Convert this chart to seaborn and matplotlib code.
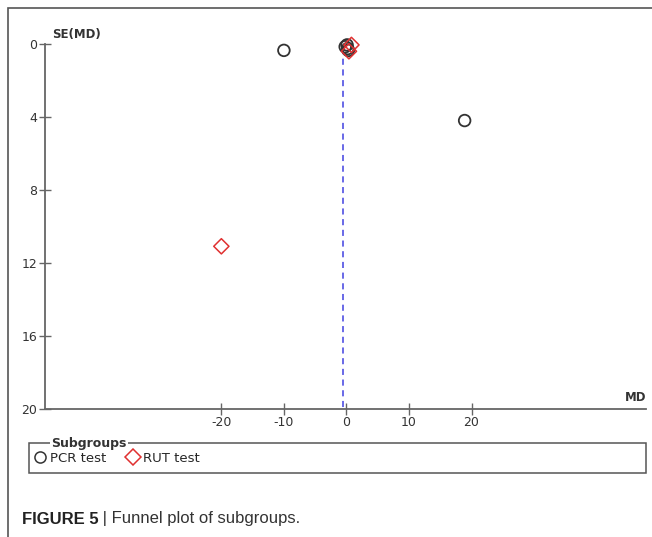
import matplotlib
matplotlib.use("Agg")
import matplotlib.pyplot as plt
import matplotlib.patches as mpatches
from matplotlib.lines import Line2D
import seaborn as sb
import pandas as pd

# funnel plot data
pcr_md = [-10.0, 18.9, -0.2, 0.1, 0.3, 0.2]
pcr_se = [0.35, 4.2, 0.15, 0.05, 0.35, 0.25]
rut_md = [-20.0, 0.8, 0.4]
rut_se = [11.1, 0.05, 0.4]
pooled_md = -0.6
x_ticks = [-20, -10, 0, 10, 20]
y_ticks = [0, 4, 8, 12, 16, 20]

df = pd.DataFrame({
    'MD': pcr_md + rut_md,
    'SE': pcr_se + rut_se,
    'Subgroup': ['PCR test'] * len(pcr_md) + ['RUT test'] * len(rut_md),
})

sb.set_style('white')
plt.rcParams['font.family'] = ['DejaVu Sans']
plt.rcParams['axes.unicode_minus'] = False

W, H = 652, 537
fig = plt.figure(figsize=(W / 100, H / 100), dpi=100)

# outer figure frame (left and top edges visible)
fig.add_artist(mpatches.Rectangle((7.5 / W, -0.05), 1.1, 1 - 7.5 / H + 0.05,
                                  transform=fig.transFigure, fill=False,
                                  edgecolor='#555555', linewidth=1.2))

ax = fig.add_axes([45 / W, (H - 408.5) / H, 601 / W, (408.5 - 44) / H])
sb.scatterplot(data=df, x='MD', y='SE', hue='Subgroup', style='Subgroup',
               markers={'PCR test': 'o', 'RUT test': 'D'},
               palette={'PCR test': 'none', 'RUT test': 'none'},
               legend=False, ax=ax, s=1)
# hollow markers
ax.scatter(pcr_md, pcr_se, s=70, marker='o', facecolors='none',
           edgecolors='#333333', linewidths=1.3, zorder=3, clip_on=False)
ax.scatter(rut_md, rut_se, s=60, marker='D', facecolors='none',
           edgecolors='#e03030', linewidths=1.1, zorder=4, clip_on=False)

ax.plot([pooled_md, pooled_md], [0.2, 20], color='#4040e0',
        linestyle=(0, (4, 3)), linewidth=1.1, zorder=2)

ax.set_xlim(-48.2, 47.9)
ax.set_ylim(20, 0)
ax.set_xticks(x_ticks)
ax.set_yticks(y_ticks)
ax.set_xlabel('')
ax.set_ylabel('')
sb.despine(ax=ax, top=True, right=True)
for s in ['left', 'bottom']:
    ax.spines[s].set_color('#666666')
    ax.spines[s].set_linewidth(1.3)
ax.tick_params(axis='both', which='both', direction='inout', length=9,
               width=1.0, color='#666666', labelsize=9, labelcolor='#333333',
               bottom=True, left=True, pad=1)
ax.text(7 / 601, 1.008, 'SE(MD)', transform=ax.transAxes, fontsize=8.5,
        fontweight='bold', color='#333333', ha='left', va='bottom')
ax.text(1.0, 0.012, 'MD', transform=ax.transAxes, fontsize=8.5,
        fontweight='bold', color='#333333', ha='right', va='bottom')

# legend box
fig.add_artist(mpatches.Rectangle((29 / W, (H - 473) / H), 617 / W, 30 / H,
                                  transform=fig.transFigure, fill=False,
                                  edgecolor='#555555', linewidth=1.1))
fig.text(51 / W, (H - 443) / H, 'Subgroups', fontsize=9, fontweight='bold',
         color='#333333', ha='left', va='center',
         bbox=dict(facecolor='white', edgecolor='none', pad=1.0))
handles = [
    Line2D([], [], marker='o', linestyle='none', markerfacecolor='none',
           markeredgecolor='#333333', markersize=8, markeredgewidth=1.1,
           label='PCR test'),
    Line2D([], [], marker='D', linestyle='none', markerfacecolor='none',
           markeredgecolor='#e03030', markersize=8, markeredgewidth=1.1,
           label='RUT test'),
]
fig.legend(handles=handles, loc='center left',
           bbox_to_anchor=(33 / W, (H - 458) / H), ncol=2, frameon=False,
           fontsize=9.5, handletextpad=0.3, columnspacing=1.5,
           handlelength=1.0, borderpad=0, borderaxespad=0)

fig.text(22 / W, (H - 519) / H, 'FIGURE 5', fontsize=12, fontweight='bold',
         color='#222222', ha='left', va='center', family='Liberation Sans')
fig.text(98 / W, (H - 519) / H, ' | Funnel plot of subgroups.', fontsize=12,
         color='#333333', ha='left', va='center', family='Liberation Sans')

fig.savefig('out.png', dpi=100)
